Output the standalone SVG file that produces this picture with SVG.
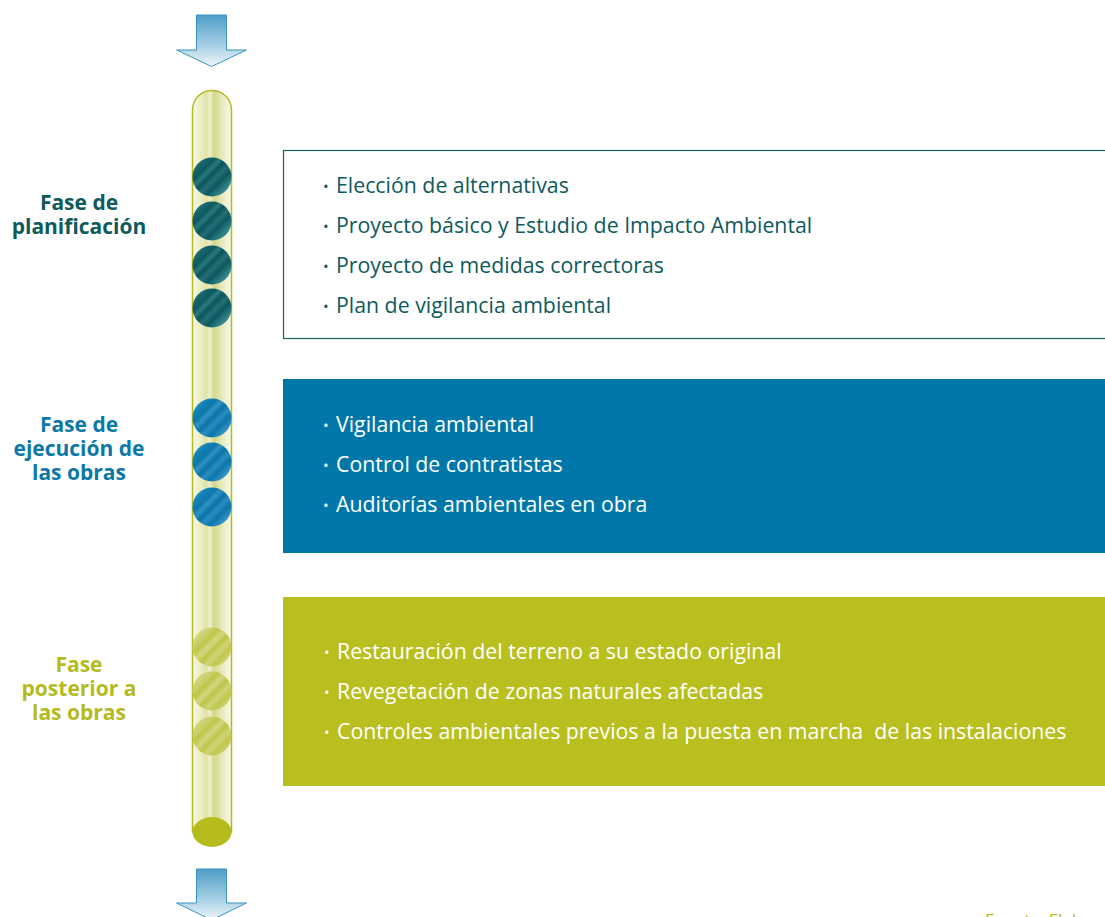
<svg xmlns="http://www.w3.org/2000/svg" width="1105" height="917" viewBox="0 0 1105 917">
<defs>
<style>
.item{font-family:"Open Sans","Noto Sans",sans-serif;font-size:21.3px}
.bul{font-family:"Open Sans","Noto Sans",sans-serif;font-size:15px}
.lab{font-family:"Open Sans","Noto Sans",sans-serif;font-size:21px;font-weight:bold;text-anchor:middle}
.teal{fill:#0e5a5d}
.blue{fill:#0b78a8}
.olive{fill:#b3bb1f}
.white{fill:#ffffff}
.arrow{fill:url(#arrowGrad);stroke:#3d93c0;stroke-width:1}
</style>
<linearGradient id="arrowGrad" x1="0" y1="0" x2="0" y2="1">
<stop offset="0" stop-color="#4c9dc7"/>
<stop offset="0.6" stop-color="#a9d0e5"/>
<stop offset="1" stop-color="#eef6fa"/>
</linearGradient>
<linearGradient id="tubeGrad" x1="0" y1="0" x2="1" y2="0">
<stop offset="0" stop-color="#f6f7e4"/>
<stop offset="0.2" stop-color="#eceec6"/>
<stop offset="0.35" stop-color="#dfe2a6"/>
<stop offset="0.45" stop-color="#eef0cc"/>
<stop offset="0.55" stop-color="#d3d78a"/>
<stop offset="0.7" stop-color="#e2e5ac"/>
<stop offset="0.85" stop-color="#eff1d2"/>
<stop offset="1" stop-color="#f7f8e6"/>
</linearGradient>
<linearGradient id="tealGrad" x1="0" y1="0" x2="1" y2="1">
<stop offset="0" stop-color="#3f8d92"/>
<stop offset="0.2" stop-color="#17646a"/>
<stop offset="0.3" stop-color="#0d5a60"/>
<stop offset="0.38" stop-color="#2a7a80"/>
<stop offset="0.46" stop-color="#0b555b"/>
<stop offset="0.56" stop-color="#236f75"/>
<stop offset="0.66" stop-color="#0c585e"/>
<stop offset="0.8" stop-color="#2f8086"/>
<stop offset="1" stop-color="#4a979c"/>
</linearGradient>
<linearGradient id="blueGrad" x1="0" y1="0" x2="1" y2="1">
<stop offset="0" stop-color="#55abd3"/>
<stop offset="0.2" stop-color="#1583b7"/>
<stop offset="0.32" stop-color="#0c77aa"/>
<stop offset="0.4" stop-color="#2f92c2"/>
<stop offset="0.5" stop-color="#0a73a6"/>
<stop offset="0.6" stop-color="#2a8ebe"/>
<stop offset="0.7" stop-color="#0b76a9"/>
<stop offset="0.85" stop-color="#3797c6"/>
<stop offset="1" stop-color="#5eb0d6"/>
</linearGradient>
<linearGradient id="oliveGrad" x1="0" y1="0" x2="1" y2="1">
<stop offset="0" stop-color="#dcdfa2"/>
<stop offset="0.25" stop-color="#cbd06c"/>
<stop offset="0.35" stop-color="#bfc547"/>
<stop offset="0.45" stop-color="#d3d784"/>
<stop offset="0.55" stop-color="#bec444"/>
<stop offset="0.65" stop-color="#cfd378"/>
<stop offset="0.75" stop-color="#c1c74d"/>
<stop offset="1" stop-color="#dee1a6"/>
</linearGradient>
</defs>
<rect width="1105" height="917" fill="#ffffff"/>

<g id="arrow-top">
<path class="arrow" d="M196.5,15 H226.5 V50 H246.5 L211.5,66.5 L176.5,50 H196.5 Z"/>
</g>

<g id="tube">
<path d="M192.5,110 A19.5,19.5 0 0 1 231.5,110 V832 H192.5 Z" fill="url(#tubeGrad)" stroke="#b3bb1f" stroke-width="1.5"/>
<ellipse cx="212" cy="832" rx="19.5" ry="15" fill="#b5bc1c"/>
</g>

<g id="dots-plan">
<circle cx="212" cy="177" r="19.5" fill="url(#tealGrad)"/>
<circle cx="212" cy="221" r="19.5" fill="url(#tealGrad)"/>
<circle cx="212" cy="265" r="19.5" fill="url(#tealGrad)"/>
<circle cx="212" cy="308" r="19.5" fill="url(#tealGrad)"/>
</g>
<g id="dots-ejec">
<circle cx="212" cy="418" r="19.5" fill="url(#blueGrad)"/>
<circle cx="212" cy="462" r="19.5" fill="url(#blueGrad)"/>
<circle cx="212" cy="507" r="19.5" fill="url(#blueGrad)"/>
</g>
<g id="dots-post">
<circle cx="212" cy="647" r="19.5" fill="url(#oliveGrad)"/>
<circle cx="212" cy="691" r="19.5" fill="url(#oliveGrad)"/>
<circle cx="212" cy="736" r="19.5" fill="url(#oliveGrad)"/>
</g>

<g id="arrow-bottom">
<path class="arrow" d="M196.5,869 H226.5 V903 H246.5 L211.5,920 L176.5,903 H196.5 Z"/>
</g>

<g id="label-plan">
<text class="lab teal" x="79" y="210">Fase de</text>
<text class="lab teal" x="79" y="234">planificación</text>
</g>
<g id="label-ejec">
<text class="lab blue" x="79" y="432">Fase de</text>
<text class="lab blue" x="79" y="456">ejecución de</text>
<text class="lab blue" x="79" y="480">las obras</text>
</g>
<g id="label-post">
<text class="lab olive" x="79" y="672">Fase</text>
<text class="lab olive" x="79" y="696">posterior a</text>
<text class="lab olive" x="79" y="720">las obras</text>
</g>

<g id="box-plan">
<rect x="283.5" y="150.5" width="830" height="188" fill="#ffffff" stroke="#1b6064" stroke-width="1.2"/>
<text class="bul teal" x="323" y="192">•</text><text class="item teal" x="336" y="193">Elección de alternativas</text>
<text class="bul teal" x="323" y="232">•</text><text class="item teal" x="336" y="233">Proyecto básico y Estudio de Impacto Ambiental</text>
<text class="bul teal" x="323" y="272">•</text><text class="item teal" x="336" y="273">Proyecto de medidas correctoras</text>
<text class="bul teal" x="323" y="312">•</text><text class="item teal" x="336" y="313">Plan de vigilancia ambiental</text>
</g>

<g id="box-ejec">
<rect x="283" y="379" width="822" height="174" fill="#0077a8"/>
<text class="bul white" x="323" y="431">•</text><text class="item white" x="336" y="432">Vigilancia ambiental</text>
<text class="bul white" x="323" y="471">•</text><text class="item white" x="336" y="472">Control de contratistas</text>
<text class="bul white" x="323" y="511">•</text><text class="item white" x="336" y="512">Auditorías ambientales en obra</text>
</g>

<g id="box-post">
<rect x="283" y="597" width="822" height="189" fill="#b8bf1f"/>
<text class="bul white" x="324" y="658">•</text><text class="item white" x="337" y="659">Restauración del terreno a su estado original</text>
<text class="bul white" x="324" y="698">•</text><text class="item white" x="337" y="699">Revegetación de zonas naturales afectadas</text>
<text class="bul white" x="324" y="738">•</text><text class="item white" x="337" y="739" xml:space="preserve">Controles ambientales previos a la puesta en marcha  de las instalaciones</text>
</g>

<text class="olive" x="985" y="926" font-family="Open Sans, Noto Sans, sans-serif" font-size="17">Fuente: Elab</text>
</svg>
